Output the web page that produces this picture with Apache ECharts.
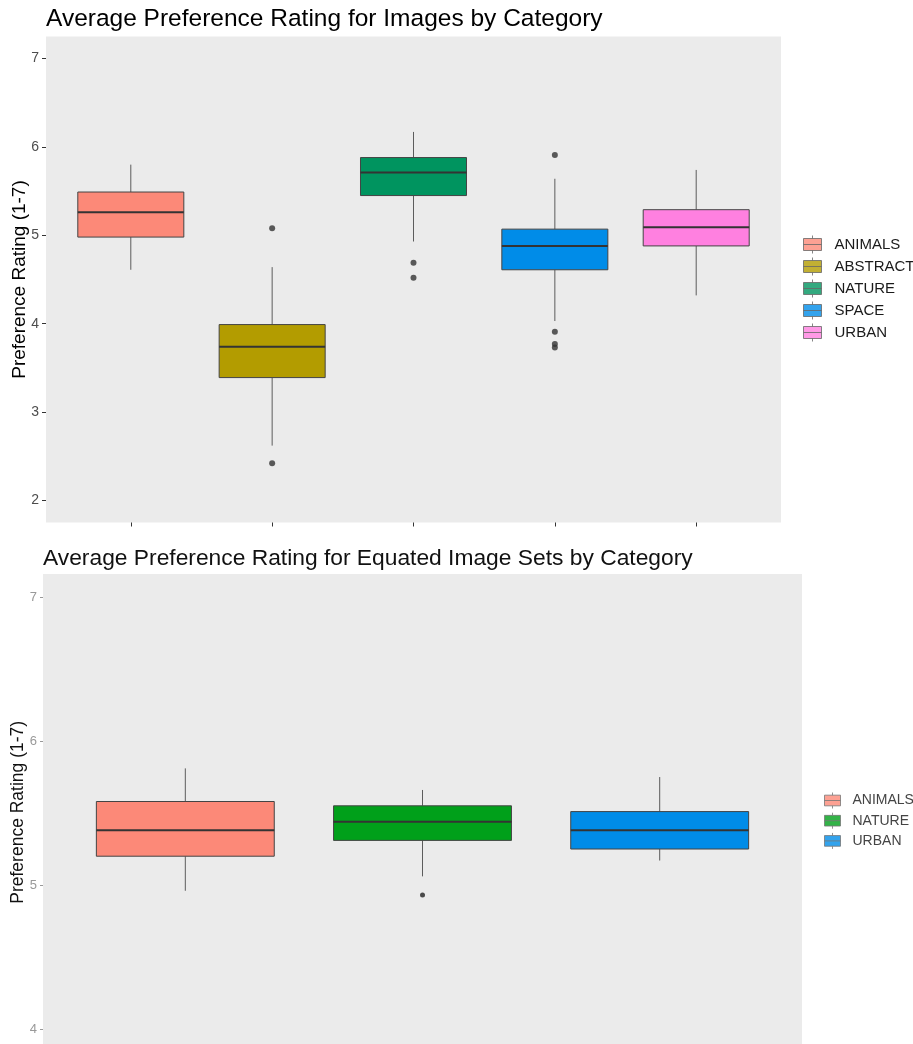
<!DOCTYPE html>
<html>
<head>
<meta charset="utf-8">
<script src="https://cdn.jsdelivr.net/npm/echarts@6/dist/echarts.min.js"></script>
<style>
  html, body { margin: 0; padding: 0; background: #ffffff; }
  #chart { width: 913px; height: 1044px; }
</style>
</head>
<body>
<div id="chart"></div>
<script>
// ---------- Data: top chart ----------
const topCategories = ['ANIMALS', 'ABSTRACT', 'NATURE', 'SPACE', 'URBAN'];
const topLowerWhisker = [4.61, 2.62, 4.93, 4.03, 4.32];
const topQ1 = [4.98, 3.39, 5.45, 4.61, 4.88];
const topMedian = [5.26, 3.74, 5.71, 4.88, 5.09];
const topQ3 = [5.49, 3.99, 5.88, 5.07, 5.29];
const topUpperWhisker = [5.80, 4.64, 6.17, 5.64, 5.74];
const topOutlierCategory = ['ABSTRACT', 'ABSTRACT', 'NATURE', 'NATURE', 'SPACE', 'SPACE', 'SPACE', 'SPACE'];
const topOutlierValue = [5.08, 2.42, 4.69, 4.52, 5.91, 3.91, 3.77, 3.73];
const topYTicks = [2, 3, 4, 5, 6, 7];

// ---------- Data: bottom chart ----------
const bottomCategories = ['ANIMALS', 'NATURE', 'URBAN'];
const bottomLowerWhisker = [4.96, 5.06, 5.17];
const bottomQ1 = [5.20, 5.31, 5.25];
const bottomMedian = [5.38, 5.44, 5.38];
const bottomQ3 = [5.58, 5.55, 5.51];
const bottomUpperWhisker = [5.81, 5.66, 5.75];
const bottomOutlierCategory = ['NATURE'];
const bottomOutlierValue = [4.93];
const bottomYTicks = [4, 5, 6, 7];

// ---------- Styles ----------
const topColors = ['#FC8978', '#B39C00', '#00945F', '#008CE8', '#FF80E0'];
const bottomColors = ['#FC8978', '#00A01A', '#008CE8'];
const FONT = '"Liberation Sans", Arial, sans-serif';
const legendIcon = 'path://M9,0V3M0,3H18V15H0ZM0,9H18M9,15V18';

// Layout (ggplot-like discrete expansion of 0.6 units each side)
const topPanel = { left: 46, top: 36.5, width: 735, height: 486 };
const botPanel = { left: 43, top: 574, width: 759, height: 476.6 };
function dataGrid(p, n) {
  const unit = p.width / (n + 0.2);
  return { left: p.left + 0.1 * unit, top: p.top, width: unit * n, height: p.height, outerBoundsMode: 'none' };
}

function boxRows(cats, lw, q1, med, q3, uw) {
  return cats.map((c, i) => [i, lw[i], q1[i], med[i], q3[i], uw[i]]);
}

function makeBoxRenderer(colors) {
  return function (params, api) {
    const x = api.value(0);
    const band = api.size([1, 0])[0];
    const hw = band * 0.375;
    const pLow = api.coord([x, api.value(1)]);
    const pQ1 = api.coord([x, api.value(2)]);
    const pMed = api.coord([x, api.value(3)]);
    const pQ3 = api.coord([x, api.value(4)]);
    const pUp = api.coord([x, api.value(5)]);
    const cx = pMed[0];
    return {
      type: 'group',
      children: [
        { type: 'line', shape: { x1: cx, y1: pUp[1], x2: cx, y2: pQ3[1] }, style: { stroke: '#5c5c5c', lineWidth: 1 } },
        { type: 'line', shape: { x1: cx, y1: pQ1[1], x2: cx, y2: pLow[1] }, style: { stroke: '#5c5c5c', lineWidth: 1 } },
        { type: 'rect', shape: { x: cx - hw, y: pQ3[1], width: 2 * hw, height: pQ1[1] - pQ3[1] },
          style: { fill: colors[params.dataIndex], stroke: '#444', lineWidth: 1 } },
        { type: 'line', shape: { x1: cx - hw, y1: pMed[1], x2: cx + hw, y2: pMed[1] }, style: { stroke: '#333', lineWidth: 2 } }
      ]
    };
  };
}

function legendSeries(cats, colors, axisIdx) {
  return cats.map((c, i) => ({
    type: 'scatter', name: c, data: [], xAxisIndex: axisIdx, yAxisIndex: axisIdx,
    itemStyle: { color: colors[i] }
  }));
}

const chart = echarts.init(document.getElementById('chart'), null, { renderer: 'canvas' });

const option = {
  animation: false,
  backgroundColor: '#ffffff',
  title: [
    { text: 'Average Preference Rating for Images by Category', left: 46, top: 6.5, padding: 0,
      textStyle: { fontFamily: FONT, fontSize: 24.5, fontWeight: 'normal', color: '#000' } },
    { text: 'Average Preference Rating for Equated Image Sets by Category', left: 43, top: 547, padding: 0,
      textStyle: { fontFamily: FONT, fontSize: 22.8, fontWeight: 'normal', color: '#111' } }
  ],
  grid: [
    Object.assign({ show: true, backgroundColor: '#EBEBEB', borderWidth: 0, outerBoundsMode: 'none' }, topPanel),
    dataGrid(topPanel, topCategories.length),
    Object.assign({ show: true, backgroundColor: '#EBEBEB', borderWidth: 0, outerBoundsMode: 'none' }, botPanel),
    dataGrid(botPanel, bottomCategories.length)
  ],
  xAxis: [
    { gridIndex: 0, type: 'value', min: 0, max: 1, show: false },
    { gridIndex: 1, type: 'category', data: topCategories, boundaryGap: true,
      axisLine: { show: false },
      axisTick: { show: true, alignWithLabel: true, length: 4, lineStyle: { color: '#333' } },
      axisLabel: { show: false }, splitLine: { show: false } },
    { gridIndex: 2, type: 'value', min: 0, max: 1, show: false },
    { gridIndex: 3, type: 'category', data: bottomCategories, boundaryGap: true,
      axisLine: { show: false },
      axisTick: { show: true, alignWithLabel: true, length: 4, lineStyle: { color: '#333' } },
      axisLabel: { show: false }, splitLine: { show: false } }
  ],
  yAxis: [
    { gridIndex: 0, type: 'value', min: 1.75, max: 7.25,
      axisLine: { show: false },
      axisTick: { show: true, length: 4, lineStyle: { color: '#333' }, customValues: topYTicks },
      axisLabel: { customValues: topYTicks, color: '#4D4D4D', fontSize: 14, fontFamily: FONT, margin: 7 },
      splitLine: { show: false },
      name: 'Preference Rating (1-7)', nameLocation: 'middle', nameGap: 17, nameMoveOverlap: false,
      nameTextStyle: { fontFamily: FONT, fontSize: 19, color: '#000' } },
    { gridIndex: 1, type: 'value', min: 1.75, max: 7.25, show: false, splitLine: { show: false } },
    { gridIndex: 2, type: 'value', min: 3.85, max: 7.16,
      axisLine: { show: false },
      axisTick: { show: true, length: 3, lineStyle: { color: '#999' }, customValues: bottomYTicks },
      axisLabel: { customValues: bottomYTicks, color: '#999', fontSize: 13, fontFamily: FONT, margin: 6 },
      splitLine: { show: false },
      name: 'Preference Rating (1-7)', nameLocation: 'middle', nameGap: 15.5, nameMoveOverlap: false,
      nameTextStyle: { fontFamily: FONT, fontSize: 17.5, color: '#111' } },
    { gridIndex: 3, type: 'value', min: 3.85, max: 7.16, show: false, splitLine: { show: false } }
  ],
  legend: [
    { orient: 'vertical', left: 803, top: 235, padding: 0, itemWidth: 18, itemHeight: 18, itemGap: 3,
      selectedMode: false,
      textStyle: { fontFamily: FONT, fontSize: 15, color: '#1a1a1a', padding: [0, 0, 0, 8] },
      data: topCategories.map((c, i) => ({ name: c, icon: legendIcon,
        itemStyle: { color: topColors[i], borderColor: '#666', borderWidth: 1 } })) },
    { orient: 'vertical', left: 824, top: 792, padding: 0, itemWidth: 16, itemHeight: 16, itemGap: 3.2,
      selectedMode: false,
      textStyle: { fontFamily: FONT, fontSize: 14, color: '#444', padding: [0, 0, 0, 7] },
      data: bottomCategories.map((c, i) => ({ name: c, icon: legendIcon,
        itemStyle: { color: bottomColors[i], borderColor: '#777', borderWidth: 1 } })) }
  ],
  series: [
    { type: 'custom', name: 'topBoxes', xAxisIndex: 1, yAxisIndex: 1,
      renderItem: makeBoxRenderer(topColors),
      encode: { x: 0, y: [1, 2, 3, 4, 5] },
      data: boxRows(topCategories, topLowerWhisker, topQ1, topMedian, topQ3, topUpperWhisker) },
    { type: 'scatter', name: 'topOutliers', xAxisIndex: 1, yAxisIndex: 1, symbolSize: 6,
      itemStyle: { color: '#333' },
      data: topOutlierCategory.map((c, i) => [c, topOutlierValue[i]]) },
    { type: 'custom', name: 'bottomBoxes', xAxisIndex: 3, yAxisIndex: 3,
      renderItem: makeBoxRenderer(bottomColors),
      encode: { x: 0, y: [1, 2, 3, 4, 5] },
      data: boxRows(bottomCategories, bottomLowerWhisker, bottomQ1, bottomMedian, bottomQ3, bottomUpperWhisker) },
    { type: 'scatter', name: 'bottomOutliers', xAxisIndex: 3, yAxisIndex: 3, symbolSize: 5,
      itemStyle: { color: '#222' },
      data: bottomOutlierCategory.map((c, i) => [c, bottomOutlierValue[i]]) }
  ].concat(legendSeries(topCategories, topColors, 1))
   .concat(legendSeries(bottomCategories, bottomColors, 3))
};

chart.setOption(option);
</script>
</body>
</html>
